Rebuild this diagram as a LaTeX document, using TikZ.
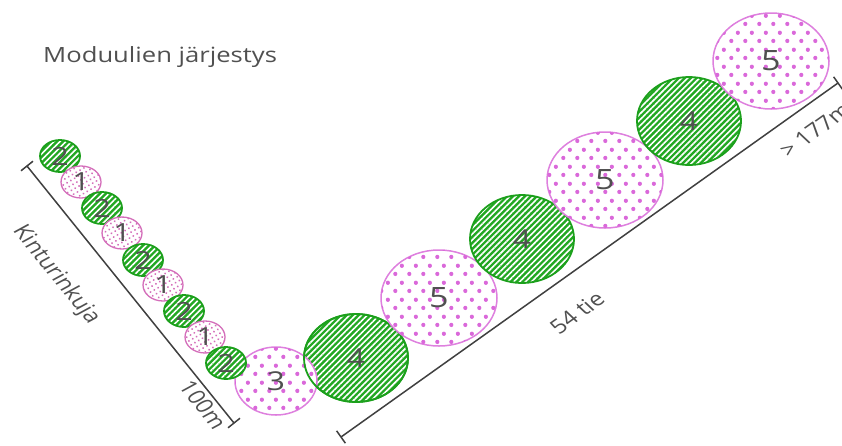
\documentclass[tikz,border=0pt]{standalone}
\usepackage{fontspec}
\setmainfont{Open Sans}
\usetikzlibrary{shapes.geometric,patterns.meta}
\definecolor{leaf}{RGB}{34,168,34}
\definecolor{leafline}{RGB}{28,160,28}
\definecolor{orchidline}{RGB}{222,128,222}
\definecolor{orchiddot}{RGB}{218,104,218}
\definecolor{smallline}{RGB}{212,110,186}
\definecolor{ink}{RGB}{80,80,80}
\definecolor{rule}{RGB}{64,64,64}
% staggered rows of dots for the pink modules
\tikzdeclarepattern{
  name=stagdots, type=uncolored,
  bottom left={(0pt,0pt)}, top right={(14pt,16.6pt)},
  tile size={(14pt,16.6pt)},
  code={
    \fill (3.5pt,4.15pt) circle (2.2pt);
    \fill (10.5pt,12.45pt) circle (2.2pt);
  }
}
% everything is drawn slightly wide, text included
\newcommand{\widetxt}[1]{\scalebox{1.22}[1]{#1}}
\tikzset{
  module/.style={ellipse, inner sep=0pt, text=ink},
  greenmod/.style={module, draw=leafline, line width=1.8pt,
    preaction={fill=leaf},
    pattern={Lines[angle=45,distance=4.2pt,line width=1.6pt]}, pattern color=white},
  pinkmod/.style={module, draw=orchidline, line width=1.5pt, fill=white,
    postaction={pattern=stagdots, pattern color=orchiddot}},
  speckmod/.style={module, draw=smallline, line width=1.3pt, fill=white,
    postaction={pattern={Dots[angle=30,distance=4.4pt,radius=1.05pt]}, pattern color=smallline}},
  smallsize/.style={minimum width=40pt, minimum height=32pt, font=\fontsize{25}{25}\selectfont},
  threesize/.style={minimum width=82pt, minimum height=68pt, font=\fontsize{26}{26}\selectfont},
  foursize/.style={minimum width=104pt, minimum height=88pt, font=\fontsize{26}{26}\selectfont},
  fivesize/.style={minimum width=116pt, minimum height=96pt, font=\fontsize{28}{28}\selectfont},
  dimline/.style={draw=rule, line width=1.5pt},
  dimlabel/.style={text=ink, font=\fontsize{20}{20}\selectfont, inner sep=0pt},
}
\begin{document}
\begin{tikzpicture}[x=1pt, y=-1pt]
\useasboundingbox (0,0) rectangle (842,445);
\clip (0,0) rectangle (842,445);

% title
\node[dimlabel, font=\fontsize{21}{21}\selectfont, anchor=base west] (title) at (43,62)
  {\widetxt{Moduulien järjestys}};

% dimension along Kinturinkuja
\coordinate (ka) at (27,166);
\coordinate (kb) at (234,423);
\draw[dimline] (ka) -- (kb);
\draw[dimline] ([shift={(-6,4.8)}]ka) -- ([shift={(6,-4.8)}]ka);
\draw[dimline] ([shift={(-6,4.8)}]kb) -- ([shift={(6,-4.8)}]kb);
\node[dimlabel, xscale=1.22, rotate=-56.4] (kname) at (56,275) {Kinturinkuja};
\node[dimlabel, xscale=1.22, rotate=-56.4] (klen) at (203,405) {100m};

% dimension along road 54
\coordinate (ta) at (341,437);
\coordinate (tb) at (838,83);
\draw[dimline] (ta) -- (tb);
\draw[dimline] ([shift={(-4.4,-6.2)}]ta) -- ([shift={(4.4,6.2)}]ta);
\draw[dimline] ([shift={(-4.4,-6.2)}]tb) -- ([shift={(4.4,6.2)}]tb);
\node[dimlabel, xscale=1.22, rotate=41] (tname) at (577,313) {54 tie};
\node[dimlabel, xscale=1.22, rotate=41, anchor=west] (tlen) at (783,153) {> 177m};

% small modules along Kinturinkuja
\node[greenmod, smallsize] (m1) at (60,156) {\widetxt{2}};
\node[speckmod, smallsize] (m2) at (81,182) {\widetxt{1}};
\node[greenmod, smallsize] (m3) at (102,208) {\widetxt{2}};
\node[speckmod, smallsize] (m4) at (122,233) {\widetxt{1}};
\node[greenmod, smallsize] (m5) at (143,260) {\widetxt{2}};
\node[speckmod, smallsize] (m6) at (163,285) {\widetxt{1}};
\node[greenmod, smallsize] (m7) at (184,311) {\widetxt{2}};
\node[speckmod, smallsize] (m8) at (205,337) {\widetxt{1}};

% corner and road modules
\node[greenmod, foursize] (m11) at (356,358) {\widetxt{4}};
\node[pinkmod, threesize] (m10) at (276,381) {\widetxt{3}};
\draw[draw=leafline, line width=1.8pt] (m11.center) ellipse (52 and 44);
\node[greenmod, smallsize] (m9) at (226,363) {\widetxt{2}};
\node[pinkmod, fivesize] (m12) at (439,298) {\widetxt{5}};
\node[greenmod, foursize] (m13) at (522,239) {\widetxt{4}};
\node[pinkmod, fivesize] (m14) at (605,180) {\widetxt{5}};
\node[greenmod, foursize] (m15) at (689,121) {\widetxt{4}};
\node[pinkmod, fivesize] (m16) at (771,61) {\widetxt{5}};
\end{tikzpicture}
\end{document}
